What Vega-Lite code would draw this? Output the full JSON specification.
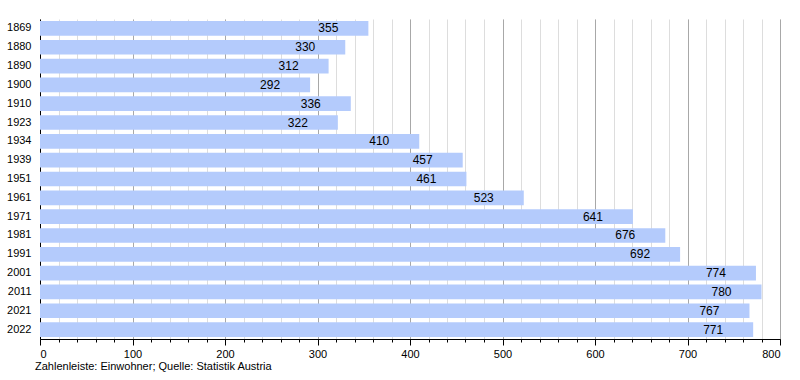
{
  "$schema": "https://vega.github.io/schema/vega-lite/v6.json",
  "autosize": "none",
  "width": 740,
  "height": 320,
  "padding": {"left": 40, "top": 19, "right": 20, "bottom": 41},
  "background": "white",
  "config": {"view": {"stroke": null}, "font": "Liberation Sans"},
  "data": {"values": [
    {"year": "1869", "pop": 355},
    {"year": "1880", "pop": 330},
    {"year": "1890", "pop": 312},
    {"year": "1900", "pop": 292},
    {"year": "1910", "pop": 336},
    {"year": "1923", "pop": 322},
    {"year": "1934", "pop": 410},
    {"year": "1939", "pop": 457},
    {"year": "1951", "pop": 461},
    {"year": "1961", "pop": 523},
    {"year": "1971", "pop": 641},
    {"year": "1981", "pop": 676},
    {"year": "1991", "pop": 692},
    {"year": "2001", "pop": 774},
    {"year": "2011", "pop": 780},
    {"year": "2021", "pop": 767},
    {"year": "2022", "pop": 771}
  ]},
  "title": {
    "text": "Zahlenleiste: Einwohner; Quelle: Statistik Austria",
    "orient": "bottom",
    "anchor": "start",
    "frame": "group",
    "fontSize": 11,
    "fontWeight": "normal",
    "color": "#000",
    "offset": 2,
    "dx": -5
  },
  "encoding": {
    "y": {
      "field": "year", "type": "ordinal", "sort": null,
      "scale": {"paddingInner": 0.22, "paddingOuter": 0.11},
      "axis": {"title": null, "ticks": false, "domain": true, "domainColor": "#000", "labelPadding": 9, "labelFontSize": 11, "labelColor": "#000"}
    }
  },
  "layer": [
    {
      "mark": {"type": "bar", "color": "#b4cbfc"},
      "encoding": {
        "x": {
          "field": "pop", "type": "quantitative",
          "scale": {"domain": [0, 800], "nice": false},
          "axis": {
            "title": null, "orient": "bottom",
            "values": [0,20,40,60,80,100,120,140,160,180,200,220,240,260,280,300,320,340,360,380,400,420,440,460,480,500,520,540,560,580,600,620,640,660,680,700,720,740,760,780,800],
            "labels": false, "tickSize": 3, "tickColor": "#000", "domainColor": "#000",
            "grid": true, "gridColor": "#dddddd", "gridWidth": 1
          }
        }
      }
    },
    {
      "mark": {"type": "text", "align": "right", "baseline": "middle", "dx": -30, "fontSize": 12, "color": "#000"},
      "encoding": {
        "x": {
          "field": "pop", "type": "quantitative",
          "scale": {"domain": [0, 800], "nice": false},
          "axis": {
            "title": null, "orient": "bottom",
            "values": [0,100,200,300,400,500,600,700,800],
            "tickSize": 6, "tickColor": "#000", "domain": false,
            "labelFontSize": 11, "labelColor": "#000", "labelPadding": 3,
            "grid": true, "gridColor": "#a8a8a8", "gridWidth": 1
          }
        },
        "text": {"field": "pop", "type": "quantitative"}
      }
    }
  ],
  "resolve": {"axis": {"x": "independent"}}
}
